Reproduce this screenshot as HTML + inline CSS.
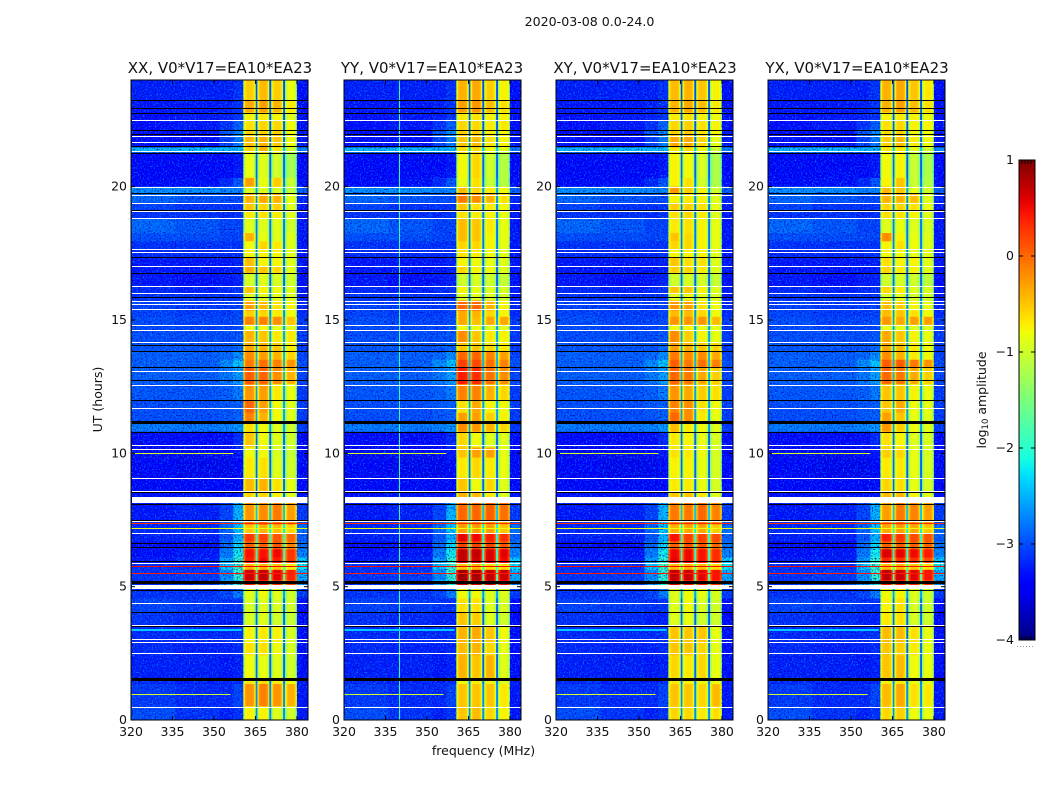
<!DOCTYPE html>
<html lang="en">
<head>
<meta charset="utf-8">
<title>2020-03-08 0.0-24.0</title>
<style>
html,body{margin:0;padding:0;background:#fff;width:1050px;height:800px;overflow:hidden}
svg{display:block}
text{font-family:"DejaVu Sans","Liberation Sans",sans-serif;fill:#111}
</style>
</head>
<body>
<svg id="figure" width="1050" height="800" viewBox="0 0 1050 800" xmlns="http://www.w3.org/2000/svg">
  <defs>
    <filter id="speckle-light" x="0" y="0" width="1" height="1" color-interpolation-filters="sRGB">
      <feTurbulence type="fractalNoise" baseFrequency="0.65" numOctaves="1" seed="3"/>
      <feColorMatrix type="matrix" values="0 0 0 0 0  0 0 0 0 0.65  0 0 0 0 1  2.5 0 0 0 -1.25"/>
    </filter>
    <filter id="speckle-dark" x="0" y="0" width="1" height="1" color-interpolation-filters="sRGB">
      <feTurbulence type="fractalNoise" baseFrequency="0.65" numOctaves="1" seed="11"/>
      <feColorMatrix type="matrix" values="0 0 0 0 0  0 0 0 0 0  0 0 0 0 0.75  3 0 0 0 -1.5"/>
    </filter>
    <linearGradient id="colorbar-gradient" x1="0" y1="1" x2="0" y2="0"></linearGradient>
  </defs>
  <text x="589.5" y="26" font-size="12.6" text-anchor="middle">2020-03-08 0.0-24.0</text>
  <text x="220" y="73" font-size="15" text-anchor="middle">XX, V0*V17=EA10*EA23</text>
  <text x="432" y="73" font-size="15" text-anchor="middle">YY, V0*V17=EA10*EA23</text>
  <text x="645" y="73" font-size="15" text-anchor="middle">XY, V0*V17=EA10*EA23</text>
  <text x="857" y="73" font-size="15" text-anchor="middle">YX, V0*V17=EA10*EA23</text>
  <text transform="translate(102 399.5) rotate(-90)" font-size="12.5" text-anchor="middle">UT (hours)</text>
  <text x="483.5" y="755" font-size="12.5" text-anchor="middle">frequency (MHz)</text>
  <text transform="translate(986 400) rotate(-90)" font-size="12.5" text-anchor="middle">log<tspan font-size="8.5" dy="2">10</tspan><tspan dy="-2"> amplitude</tspan></text>
  <g id="panels"></g>
  <g id="colorbar"></g>
</svg>
<script>
// ---- chart data ----
const panelNames = ['XX', 'YY', 'XY', 'YX'];
const xTickLabels = [320, 335, 350, 365, 380];
const yTickLabels = [0, 5, 10, 15, 20];
const colorbarTicks = [1, 0, -1, -2, -3, -4];

// Start hour of every time row, top of plot downward (a row ends at the next value; last ends at 0).
const rowStartHours = [24,23.23,22.78,22.47,22.13,21.86,21.47,21.28,20.33,20,19.74,19.4,19.1,18.8,18.26,17.95,17.65,17.34,16.99,16.73,16.27,15.96,15.73,15.35,15.12,14.82,14.59,14.13,13.82,13.51,13.21,12.6,11.98,11.52,11.17,10.81,10.22,9.84,9.08,8.54,8.16,7.5,7.32,7.01,6.7,6.4,6.09,5.86,5.63,5.25,5.02,4.56,4.02,3.49,2.88,2.42,1.58,1.35,.51];

// log10 amplitude off-band: [320-336, 336-352, 352-357, 357-360.6 MHz, band gaps, 380-384 MHz]
const offBandRows = [
[-3.25,-3.25,-3.25,-3.15,-3,-3.35],[-3.3,-3.3,-3.25,-3.15,-2.9,-3.35],[-3.35,-3.3,-3.25,-3.15,-3,-3.35],[-3.35,-3.3,-3.15,-2.9,-2.95,-3.35],
[-3.4,-3.35,-2.95,-2.65,-2.9,-3.3],[-3.35,-3.35,-3.05,-2.75,-2.9,-3.3],[-2.4,-2.35,-2.4,-2.4,-2.4,-2.7],[-3.45,-3.4,-3.4,-3.3,-2.9,-3.4],
[-3.4,-3.35,-3.2,-2.95,-2.8,-3.35],[-2.65,-2.65,-2.7,-2.7,-2.6,-2.9],[-2.85,-2.95,-3,-3,-2.7,-3.2],[-3.05,-3.15,-3.15,-3.15,-2.8,-3.3],
[-3.15,-3.15,-3.2,-3.15,-2.8,-3.3],[-2.85,-2.95,-3.05,-3.05,-2.8,-3.3],[-3,-3,-3.05,-3.05,-2.8,-3.3],[-3.15,-3.15,-3.15,-3.15,-2.8,-3.3],
[-3.2,-3.2,-3.2,-3.15,-2.8,-3.3],[-3.3,-3.3,-3.3,-3.25,-2.9,-3.3],[-3.3,-3.3,-3.3,-3.25,-2.9,-3.3],[-3.3,-3.35,-3.3,-3.25,-2.9,-3.35],
[-3.2,-3.25,-3.2,-3.15,-2.8,-3.3],[-3.15,-3.15,-3.15,-3.15,-2.8,-3.3],[-3.05,-3.1,-3.1,-3.05,-2.7,-3.2],[-3.05,-3.1,-3.1,-3.05,-2.7,-3.2],
[-3,-3.05,-3.05,-3,-2.6,-3.1],[-3,-3.05,-3.05,-3,-2.6,-3.1],[-3,-3,-3,-2.95,-2.6,-3.1],[-2.95,-2.95,-2.95,-2.85,-2.6,-3.1],
[-2.9,-2.9,-2.85,-2.65,-2.5,-3.05],[-2.9,-2.9,-2.65,-2.35,-2.5,-3],[-2.9,-2.9,-2.75,-2.55,-2.5,-3.05],[-2.95,-2.95,-2.9,-2.75,-2.6,-3.1],
[-3,-3,-2.95,-2.9,-2.6,-3.1],[-3,-3,-2.95,-2.9,-2.6,-3.1],[-2.75,-2.75,-2.7,-2.6,-2.6,-3.1],[-3.45,-3.45,-3.35,-3.2,-2.9,-3.45],
[-3.5,-3.5,-3.45,-3.3,-2.9,-3.45],[-3.45,-3.5,-3.5,-3.4,-2.9,-3.45],[-3.45,-3.45,-3.45,-3.4,-2.9,-3.45],[-3.35,-3.35,-3.35,-3.3,-2.9,-3.35],
[-3.3,-3.25,-3.05,-2.45,-2.4,-3.1],[-3.2,-3.2,-2.85,-2.45,-2.3,-3],[-3.2,-3.2,-2.85,-2.35,-2.2,-2.8],[-3.25,-3.25,-2.95,-2.45,-2.1,-2.9],
[-3.35,-3.35,-2.85,-2.25,-2.1,-2.8],[-3.35,-3.3,-2.75,-2.15,-2,-2.7],[-3.3,-3.25,-2.55,-1.95,-1.9,-2.3],[-3.15,-3.15,-2.35,-1.85,-1.7,-2.2],
[-3.15,-3.1,-2.65,-1.95,-1.8,-2.5],[-3.15,-3.1,-2.55,-2.05,-1.9,-2.6],[-3.15,-3.15,-3.05,-2.75,-2.6,-3.1],[-3.05,-3.1,-3.15,-3.15,-2.9,-3.35],
[-3.15,-3.2,-3.25,-3.25,-2.9,-3.4],[-3.2,-3.2,-3.2,-3.15,-2.9,-3.35],[-3.2,-3.25,-3.25,-3.2,-2.9,-3.35],[-3.25,-3.25,-3.3,-3.25,-2.9,-3.35],
[-3.2,-3.25,-3.25,-3.2,-2.8,-3.3],[-3.1,-3.2,-3.2,-3.05,-2.7,-3.3],[-3,-3.15,-3.25,-3.15,-2.7,-3.3]
];

// log10 amplitude of sub-bands 1-4, one row per time row.
const bandRowsXX = [
[-.65,-.55,-.65,-.95],[-.45,-.4,-.5,-.8],[-.85,-.8,-.85,-1],[-.75,-.7,-.7,-.9],[-.7,-.65,-.65,-.9],[-.55,-.5,-.6,-.9],
[-.7,-.5,-.8,-1.1],[-.95,-1,-1.1,-1.35],[-.4,-.95,-.65,-1.15],[-1,-1,-1.05,-1.2],[-.5,-.45,-.5,-.95],[-.6,-.7,-.65,-1],
[-.8,-.75,-.8,-1],[-1,-1,-1,-1.1],[-.5,-.95,-1,-1],[-.9,-.7,-.8,-1],[-.85,-.85,-.85,-1],[-.55,-.85,-.85,-1],
[-.5,-.6,-.7,-1],[-1.05,-1,-1.05,-1.1],[-.6,-.85,-.9,-1],[-1,-1,-1,-1.05],[-.4,-.55,-.75,-.85],[-.65,-.7,-.8,-.9],
[-.25,-.25,-.3,-.6],[-.9,-.9,-.95,-1],[-.5,-.6,-.8,-.8],[-.45,-.5,-.6,-.8],[-.3,-.4,-.5,-.7],[-.2,-.15,-.25,-.35],
[-.05,-.1,-.3,-.5],[-.35,-.4,-.8,-.95],[-.1,-.4,-.9,-1],[-.25,-.5,-.9,-1],[-.75,-.9,-1,-1.1],[-.6,-.9,-1,-1.1],
[-.9,-.9,-1.05,-1.15],[-.8,-.75,-1,-1.1],[-.55,-.5,-.75,-.95],[-.7,-.7,-.85,-1],[-.35,-.3,-.2,-.4],[-.2,-.1,-.2,-.35],
[-.6,-.5,-.55,-.7],[.15,.1,0,-.1],[-.05,-.05,0,-.25],[.35,.35,.4,.15],[.3,.4,.3,.15],[-.5,-.5,-.6,-.8],
[.55,.6,.45,.25],[.3,.3,.2,.1],[-1,-.9,-1,-1.1],[-1.05,-1,-1.05,-1.1],[-1.05,-1,-1.1,-1.15],[-.85,-.8,-.85,-1.05],
[-.75,-.75,-.9,-1.05],[-.9,-.95,-1,-1.1],[-.8,-.7,-.8,-.9],[-.35,-.25,-.35,-.5],[-.85,-.85,-1,-1.1]
];
const bandRowsYY = [
[-.5,-.45,-.65,-.85],[-.4,-.35,-.55,-.75],[-.8,-.75,-.85,-.85],[-.7,-.7,-.8,-.8],[-.65,-.65,-.8,-.85],[-.6,-.55,-.75,-.85],
[-.75,-.75,-.9,-1],[-.9,-.7,-1.1,-1.25],[-.95,-.75,-1.15,-1.25],[-.55,-.7,-.8,-.9],[-.2,-.3,-.5,-.75],[-.6,-.75,-.8,-.9],
[-.75,-.8,-.85,-.95],[-.55,-.6,-.8,-.95],[-.55,-.6,-.85,-.95],[-.7,-.7,-.85,-.95],[-.75,-.8,-.9,-1],[-.85,-.9,-.95,-1],
[-.7,-.85,-.9,-1],[-1.1,-1.05,-1.1,-1.15],[-.85,-.95,-1,-1.05],[-1,-1,-1,-1.1],[-.1,-.1,-.5,-.85],[-.45,-.5,-.7,-.85],
[-.45,-.55,-.45,-.45],[-.9,-.9,-1,-1],[-.3,-.6,-.8,-.85],[-.6,-.6,-.7,-.8],[-.1,-.1,-.25,-.4],[.1,.05,-.15,-.25],
[.3,.2,-.15,-.3],[-.25,-.25,-.5,-.7],[-.75,-.45,-.85,-.9],[-.4,-.4,-.65,-.85],[-.3,-.35,-.5,-.7],[-.7,-.9,-1,-1],
[-.6,-.4,-.4,-.95],[-.8,-.7,-.8,-.95],[-.6,-.9,-.7,-1],[-.5,-.55,-.8,-1],[-.1,-.1,-.05,-.15],[-.3,-.25,-.3,-.4],
[-.4,-.4,-.4,-.6],[.45,.4,.3,.2],[.1,.1,.1,0],[.6,.6,.5,.45],[.6,.55,.5,.4],[-.6,-.5,-.7,-.7],
[.75,.7,.6,.55],[.6,.55,.5,.4],[-.9,-.9,-1,-1],[-.75,-.75,-1,-1.05],[-.6,-.65,-1,-1.1],[-.5,-.45,-.6,-.9],
[-.55,-.5,-.7,-.95],[-.5,-.6,-.5,-1],[-.9,-.8,-.85,-1],[-.6,-.6,-.6,-.8],[-.6,-.55,-.7,-.85]
];
const bandRowsXY = [
[-.55,-.5,-.6,-.85],[-.5,-.45,-.55,-.8],[-.8,-.75,-.85,-.9],[-.7,-.65,-.75,-.85],[-.65,-.6,-.75,-.85],[-.45,-.45,-.7,-.95],
[-.8,-.75,-.9,-1.1],[-.85,-.9,-1.05,-1.3],[-.85,-.75,-1.1,-1.3],[-.35,-.65,-.85,-1.1],[-.85,-.8,-.85,-1],[-.65,-.65,-.75,-.95],
[-.75,-.7,-.8,-1],[-.8,-.75,-.85,-.95],[-.6,-.7,-.85,-.95],[-.7,-.7,-.85,-.95],[-.85,-.85,-.85,-1],[-.6,-.75,-.75,-1],
[-.65,-.7,-.8,-1],[-1.1,-1.05,-1.05,-1.15],[-.6,-.6,-.85,-1],[-1,-.95,-1,-1.05],[-.35,-.4,-.75,-.9],[-.55,-.55,-.7,-.9],
[-.35,-.35,-.35,-.55],[-.9,-.85,-.95,-.95],[-.3,-.65,-.85,-.95],[-.4,-.5,-.6,-.7],[-.2,-.3,-.3,-.45],[-.05,-.2,-.15,-.25],
[-.1,-.2,-.45,-.65],[-.35,-.45,-.65,-.75],[-.25,-.3,-.75,-.9],[-.1,-.3,-.8,-.95],[-.55,-.8,-.9,-1],[-.8,-.85,-.95,-1.05],
[-.75,-.8,-.9,-1.05],[-.85,-.85,-.95,-1.05],[-.8,-.8,-.95,-1.05],[-.6,-.6,-.8,-1],[-.2,-.2,-.1,-.25],[-.25,-.2,-.2,-.3],
[-.5,-.45,-.45,-.65],[.35,.1,.1,.05],[-.05,0,0,-.1],[.4,.4,.35,.2],[.45,.4,.35,.2],[-.55,-.5,-.55,-.7],
[.6,.55,.45,.35],[.45,.35,.3,.2],[-1,-.9,-.95,-1.05],[-1,-.9,-1.05,-1.1],[-1,-.95,-1.1,-1.1],[-.6,-.6,-.6,-.95],
[-.6,-.6,-.7,-.95],[-.7,-.8,-.7,-.95],[-.8,-.85,-.85,-.9],[-.6,-.6,-.7,-.55],[-.7,-.7,-.8,-.75]
];
const bandRowsYX = [
[-.5,-.45,-.6,-.8],[-.5,-.4,-.55,-.75],[-.85,-.8,-.85,-.9],[-.75,-.7,-.85,-.85],[-.7,-.65,-.85,-.9],[-.65,-.55,-.8,-.9],
[-.8,-.8,-1,-1.1],[-.9,-.85,-1.15,-1.3],[-.85,-.6,-1.15,-1.25],[-.55,-.6,-.95,-1.1],[-.5,-.5,-.55,-1],[-.7,-.7,-.75,-.95],
[-.75,-.75,-.85,-1],[-1,-.95,-1,-1.05],[-.3,-.85,-.95,-1],[-.85,-.75,-.9,-1],[-.9,-.9,-.95,-1],[-.75,-.85,-.85,-1],
[-.7,-.8,-.85,-1],[-1.1,-1.05,-1.1,-1.2],[-.7,-.8,-1,-1.05],[-1.05,-1,-1.05,-1.1],[-.55,-.65,-.85,-.95],[-.55,-.6,-.75,-.9],
[-.35,-.45,-.4,-.4],[-.95,-.95,-1,-1],[-.45,-.6,-.85,-.95],[-.45,-.55,-.8,-.9],[-.3,-.5,-.8,-.9],[-.05,-.05,-.2,-.35],
[-.1,-.2,-.45,-.65],[-.6,-.6,-.85,-.95],[-.6,-.45,-.9,-.95],[-.4,-.6,-.95,-1],[-.35,-.65,-.9,-1],[-.75,-.85,-1,-1.05],
[-.65,-.7,-.95,-1.05],[-.8,-.8,-.95,-1.05],[-.7,-.75,-.95,-1.05],[-.55,-.55,-.85,-1],[-.4,-.2,-.25,-.4],[-.3,-.2,-.3,-.4],
[-.45,-.4,-.45,-.6],[.3,.15,.05,0],[-.05,-.05,-.05,-.1],[.5,.45,.4,.3],[.25,.2,.2,.05],[-.55,-.5,-.6,-.75],
[.6,.55,.45,.35],[.35,.3,.25,.15],[-.9,-.85,-1,-1.1],[-.85,-.75,-1.05,-1.1],[-.8,-.75,-1.05,-1.1],[-.55,-.55,-.75,-.95],
[-.6,-.65,-.8,-.95],[-.6,-.55,-.9,-.95],[-.85,-.8,-.9,-.95],[-.55,-.45,-.75,-.8],[-.7,-.65,-.9,-.95]
];

// Sub-band limits in MHz.
const bandStartMHz = [360.6, 365.7, 370.7, 375.7];
const bandEndMHz = [365.1, 370, 375, 380];
// Passband shape across the channels of one sub-band.
const bandChannelShape = [-.35, .02, .12, .12, .12, .12, .05, -.3];
// Off-band column limits in MHz.
const offBandStartMHz = [320, 336, 352, 357];
const offBandEndMHz = [336, 352, 357, 360.6];

// Flagged integrations, in UT hours.
const whiteFlagHours = [22.49,21.9,21.66,21.31,19.98,19.68,19.38,19.08,18.81,17.65,17.54,17,16.26,15.99,15.7,15.6,15.38,14.8,14.61,14.15,13.08,12.56,11.69,10.3,10.15,9.05,8.58,7.43,7,5.88,4.38,3.53,3.03,2.9,2.48,.48];
const blackFlagHours = [23.24,22.94,22.75,22.12,21.96,21.51,21.23,19.73,19.12,17.35,16.76,15.85,14.03,13.83,13.23,12.74,11.99,10.79,8.54,8.1,7.5,6.62,6.47,5.93,4.86,4.04,3.5];
const wideWhiteHours = [8.25, 4.99];
const wideWhiteDurations = [.24, .15];
const wideBlackHours = [11.15, 5.16, 1.52];
const wideBlackDurations = [.11, .1, .13];

// Narrow interference rows.
const rfiHours = [10.03, .96, 7.37, 7.19, 5.76, 5.5, 3.42, 3.39];
const rfiStartMHz = [320, 320, 320, 320, 320, 320, 320, 320];
const rfiEndMHz = [357, 356, 384, 384, 384, 384, 360, 360];
const rfiLevels = [-1, -1, .3, -.8, .5, .4, -2.4, -2.4];

// Narrow interference columns: panel index, frequency, level.
const rfiColumnPanels = [1];
const rfiColumnMHz = [340];
const rfiColumnLevels = [-2];

// ---- rendering ----
const NS = 'http://www.w3.org/2000/svg';
const panelBands = [bandRowsXX, bandRowsYY, bandRowsXY, bandRowsYX];
const panelLefts = [131, 344, 556, 768];
const plotWidth = 177, plotTop = 80, plotHeight = 640;

function interp(knots, t) {
  for (let i = 1; i < knots.length; i++) {
    if (t <= knots[i][0]) {
      const a = knots[i - 1], b = knots[i];
      return a[1] + (b[1] - a[1]) * (t - a[0]) / (b[0] - a[0]);
    }
  }
  return knots[knots.length - 1][1];
}
const jetR = [[0,0],[.35,0],[.66,1],[.89,1],[1,.5]];
const jetG = [[0,0],[.125,0],[.375,1],[.64,1],[.91,0],[1,0]];
const jetB = [[0,.5],[.11,1],[.34,1],[.65,0],[1,0]];
function levelColor(v) {
  const t = Math.max(0, Math.min(1, (v + 4) / 5));
  return 'rgb(' + Math.round(255 * interp(jetR, t)) + ',' + Math.round(255 * interp(jetG, t)) + ',' + Math.round(255 * interp(jetB, t)) + ')';
}
function xScale(left, mhz) { return left + (mhz - 320) * plotWidth / 64; }
function yScale(hour) { return plotTop + plotHeight - hour * plotHeight / 24; }
function rowEndHour(r) { return r + 1 < rowStartHours.length ? rowStartHours[r + 1] : 0; }

function addCell(group, left, f0, f1, h0, h1, v) {
  const x0 = xScale(left, f0), x1 = xScale(left, f1), y0 = yScale(h0), y1 = yScale(h1);
  const cell = document.createElementNS(NS, 'rect');
  
  
  cell.setAttribute('x', x0.toFixed(2));
  cell.setAttribute('y', y0.toFixed(2));
  cell.setAttribute('width', (x1 - x0 + .3).toFixed(2));
  cell.setAttribute('height', (y1 - y0 + .3).toFixed(2));
  cell.setAttribute('fill', levelColor(v));
  group.appendChild(cell);
}
function addFlag(group, left, hour, duration, color, name) {
  const flag = document.createElementNS(NS, 'rect');
  
  
  const h = Math.max(1, Math.round(duration * plotHeight / 24));
  flag.setAttribute('x', left + 1);
  flag.setAttribute('y', Math.round(yScale(hour) - h / 2));
  flag.setAttribute('width', plotWidth - 1);
  flag.setAttribute('height', h);
  flag.setAttribute('fill', color);
  group.appendChild(flag);
}
function addLine(group, x1, y1, x2, y2, name) {
  const line = document.createElementNS(NS, 'line');
  
  
  line.setAttribute('x1', x1);
  line.setAttribute('y1', y1);
  line.setAttribute('x2', x2);
  line.setAttribute('y2', y2);
  line.setAttribute('stroke', '#000');
  line.setAttribute('stroke-width', '1');
  group.appendChild(line);
}
function addLabel(group, x, y, anchor, label, name) {
  const t = document.createElementNS(NS, 'text');
  
  
  t.setAttribute('x', x);
  t.setAttribute('y', y);
  t.setAttribute('text-anchor', anchor);
  t.setAttribute('font-size', '12.5');
  t.textContent = label;
  group.appendChild(t);
}
function addSpeckle(group, left, f0, f1, filterId) {
  const s = document.createElementNS(NS, 'rect');
  
  
  s.setAttribute('x', xScale(left, f0));
  s.setAttribute('y', plotTop);
  s.setAttribute('width', xScale(left, f1) - xScale(left, f0));
  s.setAttribute('height', plotHeight);
  s.setAttribute('filter', 'url(#' + filterId + ')');
  group.appendChild(s);
}

const panelsRoot = document.getElementById('panels');
panelNames.forEach(function (panelName, p) {
  const left = panelLefts[p];
  const bands = panelBands[p];
  const g = document.createElementNS(NS, 'g');
  
  
  panelsRoot.appendChild(g);

  rowStartHours.forEach(function (top, r) {
    const bottom = rowEndHour(r);
    const off = offBandRows[r];
    for (let c = 0; c < offBandStartMHz.length; c++) {
      addCell(g, left, offBandStartMHz[c], offBandEndMHz[c], top, bottom, off[c]);
    }
    for (let b = 0; b < bandStartMHz.length; b++) {
      const level = bands[r][b];
      const span = (bandEndMHz[b] - bandStartMHz[b]) / bandChannelShape.length;
      bandChannelShape.forEach(function (shape, ch) {
        addCell(g, left, bandStartMHz[b] + ch * span, bandStartMHz[b] + (ch + 1) * span, top, bottom, level + shape);
      });
      const gapEnd = b + 1 < bandStartMHz.length ? bandStartMHz[b + 1] : bandEndMHz[b];
      if (gapEnd > bandEndMHz[b]) addCell(g, left, bandEndMHz[b], gapEnd, top, bottom, off[4]);
    }
    addCell(g, left, 380, 384, top, bottom, off[5]);
  });

  addSpeckle(g, left, 320, 360.6, 'speckle-light');
  addSpeckle(g, left, 320, 360.6, 'speckle-dark');
  addSpeckle(g, left, 380, 384, 'speckle-light');
  addSpeckle(g, left, 380, 384, 'speckle-dark');

  rfiColumnPanels.forEach(function (panelIndex, i) {
    if (panelIndex !== p) return;
    const column = document.createElementNS(NS, 'rect');
    
    
    column.setAttribute('x', Math.round(xScale(left, rfiColumnMHz[i])));
    column.setAttribute('y', plotTop);
    column.setAttribute('width', 1);
    column.setAttribute('height', plotHeight);
    column.setAttribute('fill', levelColor(rfiColumnLevels[i]));
    g.appendChild(column);
  });

  rfiHours.forEach(function (hour, i) {
    const x0 = xScale(left, rfiStartMHz[i]), x1 = xScale(left, rfiEndMHz[i]);
    const rfi = document.createElementNS(NS, 'rect');
    
    
    rfi.setAttribute('x', x0);
    rfi.setAttribute('y', Math.round(yScale(hour)));
    rfi.setAttribute('width', x1 - x0);
    rfi.setAttribute('height', 1);
    rfi.setAttribute('fill', levelColor(rfiLevels[i]));
    g.appendChild(rfi);
  });
  whiteFlagHours.forEach(function (hour) { addFlag(g, left, hour, .04, '#fff', 'flagged-row-white'); });
  wideWhiteHours.forEach(function (hour, i) { addFlag(g, left, hour, wideWhiteDurations[i], '#fff', 'flagged-block-white'); });
  blackFlagHours.forEach(function (hour) { addFlag(g, left, hour, .04, '#000', 'flagged-row-black'); });
  wideBlackHours.forEach(function (hour, i) { addFlag(g, left, hour, wideBlackDurations[i], '#000', 'flagged-block-black'); });

  const frame = document.createElementNS(NS, 'rect');
  
  
  frame.setAttribute('x', left);
  frame.setAttribute('y', plotTop);
  frame.setAttribute('width', plotWidth);
  frame.setAttribute('height', plotHeight);
  frame.setAttribute('fill', 'none');
  frame.setAttribute('stroke', '#000');
  frame.setAttribute('stroke-width', '1');
  g.appendChild(frame);

  xTickLabels.forEach(function (mhz) {
    const x = xScale(left, mhz);
    addLine(g, x, plotTop + plotHeight, x, plotTop + plotHeight - 4, 'x-tick');
    addLine(g, x, plotTop, x, plotTop + 4, 'x-tick-top');
    addLabel(g, x, 736, 'middle', String(mhz), 'x-tick-label');
  });
  yTickLabels.forEach(function (hour) {
    const y = yScale(hour);
    addLine(g, left, y, left + 4, y, 'y-tick');
    addLine(g, left + plotWidth, y, left + plotWidth - 4, y, 'y-tick-right');
    addLabel(g, left - 4, y + 4, 'end', String(hour), 'y-tick-label');
  });
});

// ---- colorbar ----
const cbLeft = 1019, cbTop = 160, cbWidth = 16, cbHeight = 480;
function cbY(v) { return cbTop + (1 - v) * cbHeight / 5; }
const gradient = document.getElementById('colorbar-gradient');
for (let i = 0; i <= 50; i++) {
  const stop = document.createElementNS(NS, 'stop');
  stop.setAttribute('offset', (i * 2) + '%');
  stop.setAttribute('stop-color', levelColor(-4 + i / 10));
  gradient.appendChild(stop);
}
const cb = document.getElementById('colorbar');
const cbRect = document.createElementNS(NS, 'rect');


cbRect.setAttribute('x', cbLeft);
cbRect.setAttribute('y', cbTop);
cbRect.setAttribute('width', cbWidth);
cbRect.setAttribute('height', cbHeight);
cbRect.setAttribute('fill', 'url(#colorbar-gradient)');
cbRect.setAttribute('stroke', '#000');
cbRect.setAttribute('stroke-width', '1');
cb.appendChild(cbRect);
colorbarTicks.forEach(function (v) {
  const y = cbY(v);
  addLine(cb, cbLeft, y, cbLeft + 4, y, 'colorbar-tick');
  addLine(cb, cbLeft + cbWidth, y, cbLeft + cbWidth - 4, y, 'colorbar-tick-right');
  addLabel(cb, cbLeft - 5, y + 4, 'end', v < 0 ? '\u2212' + Math.abs(v) : String(v), 'colorbar-tick-label');
});
[3, 6, 9, 12].forEach(function (dx) {
  addLine(cb, cbLeft + dx, cbTop, cbLeft + dx, cbTop + 4, 'colorbar-top-tick');
  addLine(cb, cbLeft + dx, cbTop + cbHeight, cbLeft + dx, cbTop + cbHeight - 4, 'colorbar-bottom-tick');
});
const dots = document.createElementNS(NS, 'line');


dots.setAttribute('x1', 1017);
dots.setAttribute('y1', 646.5);
dots.setAttribute('x2', 1035);
dots.setAttribute('y2', 646.5);
dots.setAttribute('stroke', '#999');
dots.setAttribute('stroke-width', '1');
dots.setAttribute('stroke-dasharray', '1 2');
cb.appendChild(dots);
</script>
</body>
</html>
